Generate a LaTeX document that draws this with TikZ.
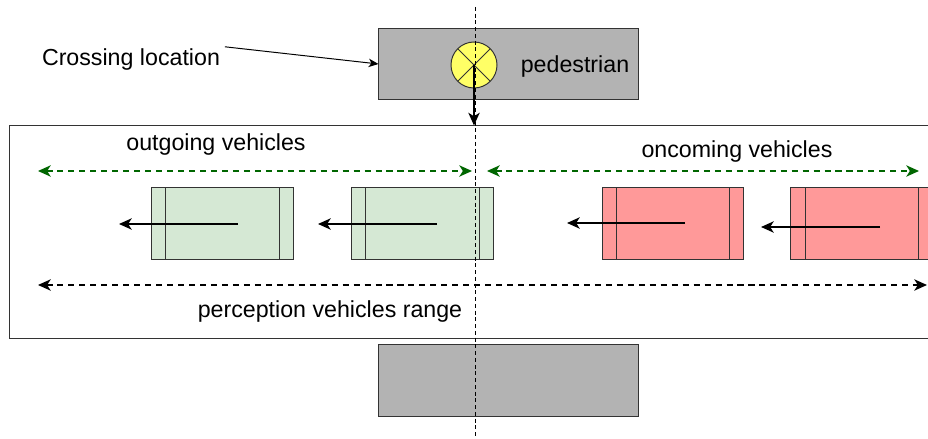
\documentclass[tikz,border=0pt]{standalone}
\usepackage{fontspec}
\setmainfont{Liberation Sans}
\usetikzlibrary{arrows.meta}
\definecolor{carGreen}{HTML}{D5E8D4}
\definecolor{carRed}{HTML}{FF9999}
\definecolor{laneGreen}{HTML}{006600}
\definecolor{blockGray}{HTML}{B3B3B3}
\definecolor{pedYellow}{HTML}{FFFF66}
\begin{document}
\begin{tikzpicture}[x=0.025cm,y=-0.025cm,font=\fontsize{16.5}{20}\selectfont,
  block/.style={draw=black!80,fill=blockGray,line width=0.7pt,minimum width=6.475cm,minimum height=1.75cm,inner sep=0pt},
  car/.style={draw=black!80,line width=0.7pt,minimum width=3.525cm,minimum height=1.775cm,inner sep=0pt,
    path picture={
      \draw[black!80,line width=0.7pt] ([xshift=0.35cm]path picture bounding box.north west) -- ([xshift=0.35cm]path picture bounding box.south west);
      \draw[black!80,line width=0.7pt] ([xshift=-0.35cm]path picture bounding box.north east) -- ([xshift=-0.35cm]path picture bounding box.south east);}},
  move/.style={line width=1.4pt,-{Stealth[length=9pt,width=8pt,inset=2.5pt]}},
  spanarrow/.style={line width=1.4pt,dash pattern=on 4.3pt off 3.5pt,{Stealth[length=9pt,width=8pt,inset=2.5pt]}-{Stealth[length=9pt,width=8pt,inset=2.5pt]}}]
\useasboundingbox (0,0) rectangle (928,439);

\node[block] (top) at (508.5,64) {};
\node[block,minimum height=1.775cm] (bottom) at (508.5,380.5) {};
\node[draw=black!80,line width=0.7pt,minimum width=23.25cm,minimum height=5.3cm] (road) at (475,232) {};

\node[circle,draw=black!80,fill=pedYellow,line width=0.7pt,minimum size=1.15cm,inner sep=0pt,
  path picture={\draw[black!80,line width=0.7pt] (path picture bounding box.north west) -- (path picture bounding box.south east)
    (path picture bounding box.north east) -- (path picture bounding box.south west);}] (ped) at (474,65) {};
\node (pedtext) at (575,67) {pedestrian};
\node (cross) at (131,60) {Crossing location};
\draw[line width=0.7pt,-{Stealth[length=7pt,width=6pt,inset=2pt]}] (cross.8) -- (top.west);
\draw[move] (ped.center) -- (ped.center |- road.north);

\node (outtext) at (216,145) {outgoing vehicles};
\node (ontext) at (737,152) {oncoming vehicles};
\node (rangetext) at (330,312) {perception vehicles range};

\coordinate (outL) at (38,171);
\coordinate (outR) at (472,171);
\coordinate (onL) at (487,171);
\coordinate (onR) at (919,171);
\coordinate (rangeL) at (38,285);
\coordinate (rangeR) at (927,285);
\draw[spanarrow,laneGreen] (outL) -- (outR);
\draw[spanarrow,laneGreen] (onL) -- (onR);
\draw[spanarrow] (rangeL) -- (rangeR);

\node[car,fill=carGreen] (out1) at (222.5,223.5) {};
\node[car,fill=carGreen] (out2) at (422.5,223.5) {};
\node[car,fill=carRed] (on1) at (673,223.5) {};
\node[car,fill=carRed] (on2) at (861.5,223.5) {};

\coordinate (out1s) at (238,224);
\coordinate (out1e) at (119,224);
\coordinate (out2s) at (437,224);
\coordinate (out2e) at (318,224);
\coordinate (on1s) at (685,223);
\coordinate (on1e) at (567,223);
\coordinate (on2s) at (880,227);
\coordinate (on2e) at (761,227);
\draw[move] (out1s) -- (out1e);
\draw[move] (out2s) -- (out2e);
\draw[move] (on1s) -- (on1e);
\draw[move] (on2s) -- (on2e);

\coordinate (axtop) at (475,7);
\coordinate (axbot) at (475,439);
\draw[line width=0.7pt,dash pattern=on 2.8pt off 2pt] (axtop) -- (axbot);
\end{tikzpicture}
\end{document}
